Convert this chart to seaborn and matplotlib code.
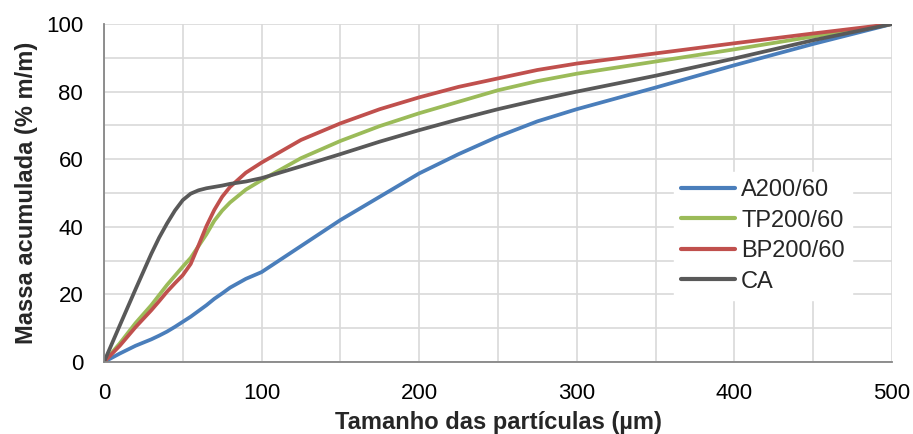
import numpy as np
import pandas as pd
import seaborn as sns
import matplotlib
matplotlib.use("Agg")
import matplotlib.pyplot as plt
from matplotlib.ticker import MultipleLocator

# Particle size (µm) and cumulative mass (% m/m) for each sample
tamanho = [0, 10, 20, 30, 35, 40, 45, 50, 55, 60, 65, 70, 75, 80, 90, 100, 125, 150,
           175, 200, 225, 250, 275, 300, 350, 400, 450, 500]
a200 = [0, 2.5, 4.8, 6.7, 7.8, 9.0, 10.4, 11.9, 13.4, 15.1, 16.8, 18.7, 20.3, 22.0, 24.6,
        26.6, 34.3, 42.0, 48.9, 55.8, 61.5, 66.7, 71.2, 74.8, 81.2, 87.8, 94.1, 100]
tp200 = [0, 5.5, 11.5, 16.8, 19.8, 22.8, 25.5, 28.2, 30.8, 34.3, 37.8, 41.8, 44.8, 47.2, 51.0,
         53.8, 60.3, 65.4, 69.8, 73.6, 77.0, 80.4, 83.1, 85.3, 88.9, 92.5, 96.3, 100]
bp200 = [0, 4.8, 10.3, 15.3, 18.0, 20.8, 23.3, 25.7, 29.0, 34.5, 40.2, 45.0, 48.9, 51.8, 56.0,
         59.0, 65.7, 70.6, 74.8, 78.3, 81.4, 83.9, 86.4, 88.3, 91.3, 94.3, 97.2, 100]
ca = [0, 10.8, 21.5, 32.0, 36.8, 41.0, 44.8, 47.9, 49.8, 50.8, 51.4, 51.8, 52.2, 52.7, 53.4,
      54.4, 57.9, 61.5, 65.2, 68.6, 71.8, 74.8, 77.5, 80.0, 84.7, 89.8, 95.2, 100]

amostras = ["A200/60", "TP200/60", "BP200/60", "CA"]
cores = ["#4A7EBB", "#9BBB59", "#C0504D", "#595959"]

df = pd.concat([
    pd.DataFrame({"x": tamanho, "y": vals, "amostra": nome})
    for nome, vals in zip(amostras, [a200, tp200, bp200, ca])
], ignore_index=True)

sns.set_theme(style="white")
plt.rcParams["font.family"] = ["Liberation Sans", "DejaVu Sans"]

fig = plt.figure(figsize=(9.13, 4.34), dpi=100)
ax = fig.add_axes([0.1139, 0.1659, 0.8631, 0.7788])

sns.lineplot(data=df, x="x", y="y", hue="amostra", hue_order=amostras,
             palette=cores, estimator=None, sort=False, linewidth=2.7, ax=ax)

ax.set_xlim(0, 500)
ax.set_ylim(0, 100)
ax.xaxis.set_major_locator(MultipleLocator(100))
ax.xaxis.set_minor_locator(MultipleLocator(50))
ax.yaxis.set_major_locator(MultipleLocator(20))
ax.yaxis.set_minor_locator(MultipleLocator(10))
ax.grid(True, which="both", color="#D9D9D9", linewidth=1.2)
ax.set_axisbelow(True)

for s in ["top", "right"]:
    ax.spines[s].set_visible(False)
for s in ["left", "bottom"]:
    ax.spines[s].set_color("#868686")
    ax.spines[s].set_linewidth(1.3)

ax.tick_params(which="both", direction="out", color="#868686", width=1.3,
               length=5, labelsize=16, colors="#868686", labelcolor="black")
ax.tick_params(axis="x", pad=10)
ax.tick_params(axis="y", pad=10)

ax.set_xlabel("Tamanho das partículas (µm)", fontsize=17, fontweight="bold", labelpad=5)
ax.set_ylabel("Massa acumulada (% m/m)", fontsize=17, fontweight="bold", labelpad=6)

leg = ax.legend(loc="upper left", bbox_to_anchor=(0.723, 0.562), frameon=True,
                fontsize=17, handlelength=2.3, handletextpad=0.25,
                labelspacing=0.36, borderpad=0.3, borderaxespad=0)
leg.get_frame().set_edgecolor("white")
leg.get_frame().set_facecolor("white")
leg.get_frame().set_alpha(1)
leg.get_frame().set_boxstyle("square", pad=0)
for line in leg.get_lines():
    line.set_linewidth(3)

fig.savefig("out.png", dpi=100)
